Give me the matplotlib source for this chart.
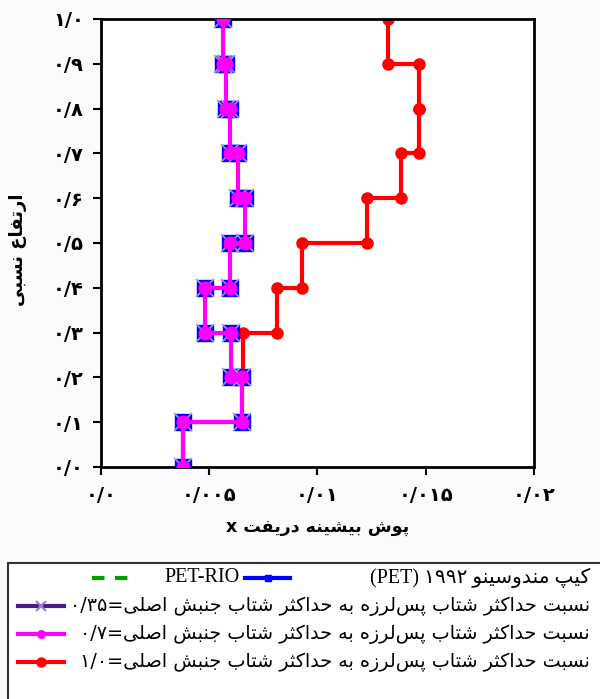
import matplotlib
matplotlib.use("Agg")
import matplotlib.pyplot as plt
from matplotlib.patches import Rectangle

# --- data ---
heights = [0.0, 0.1, 0.2, 0.3, 0.4, 0.5, 0.6, 0.7, 0.8, 0.9, 1.0]
drift_pet = [0.0038, 0.00652, 0.00601, 0.00481, 0.00597, 0.00666, 0.00634, 0.00596, 0.00578, 0.00564]
drift_petrio = [0.0038, 0.00652, 0.00601, 0.00481, 0.00597, 0.00666, 0.00634, 0.00596, 0.00578, 0.00564]
drift_r035 = [0.0038, 0.00652, 0.00601, 0.00481, 0.00597, 0.00666, 0.00634, 0.00596, 0.00578, 0.00564]
drift_r07 = [0.0038, 0.00652, 0.00601, 0.00481, 0.00597, 0.00666, 0.00634, 0.00596, 0.00578, 0.00564]
drift_r10 = [0.0038, 0.00652, 0.00657, 0.00813, 0.00929, 0.01229, 0.01385, 0.01469, 0.01469, 0.01325]

xticks = [0.0, 0.005, 0.01, 0.015, 0.02]
xtick_labels = ['۰/۰', '۰/۰۰۵', '۰/۰۱', '۰/۰۱۵', '۰/۰۲']
yticks = [0.0, 0.1, 0.2, 0.3, 0.4, 0.5, 0.6, 0.7, 0.8, 0.9, 1.0]
ytick_labels = ['۰/۰', '۰/۱', '۰/۲', '۰/۳', '۰/۴', '۰/۵', '۰/۶', '۰/۷', '۰/۸', '۰/۹', '۱/۰']

xlabel = 'پوش بیشینه دریفت x'
ylabel = 'ارتفاع نسبی'
lbl_pet = 'کیپ مندوسینو ۱۹۹۲ (PET)'
lbl_petrio = 'PET-RIO'
lbl_ratio = 'نسبت حداکثر شتاب پس\u200cلرزه به حداکثر شتاب جنبش اصلی='
ratios = ['۰/۳۵', '۰/۷', '۱/۰']

# --- minimal Persian shaping + right-to-left ordering (matplotlib has no CTL) ---
# isolated, final, initial, medial
FORMS = {
    'ا': (0xFE8D, 0xFE8E, 0xFE8D, 0xFE8E),
    'ب': (0xFE8F, 0xFE90, 0xFE91, 0xFE92),
    'پ': (0xFB56, 0xFB57, 0xFB58, 0xFB59),
    'ت': (0xFE95, 0xFE96, 0xFE97, 0xFE98),
    'ث': (0xFE99, 0xFE9A, 0xFE9B, 0xFE9C),
    'ج': (0xFE9D, 0xFE9E, 0xFE9F, 0xFEA0),
    'ح': (0xFEA1, 0xFEA2, 0xFEA3, 0xFEA4),
    'د': (0xFEA9, 0xFEAA, 0xFEA9, 0xFEAA),
    'ر': (0xFEAD, 0xFEAE, 0xFEAD, 0xFEAE),
    'ز': (0xFEAF, 0xFEB0, 0xFEAF, 0xFEB0),
    'س': (0xFEB1, 0xFEB2, 0xFEB3, 0xFEB4),
    'ش': (0xFEB5, 0xFEB6, 0xFEB7, 0xFEB8),
    'ص': (0xFEB9, 0xFEBA, 0xFEBB, 0xFEBC),
    'ع': (0xFEC9, 0xFECA, 0xFECB, 0xFECC),
    'ف': (0xFED1, 0xFED2, 0xFED3, 0xFED4),
    'ک': (0xFB8E, 0xFB8F, 0xFB90, 0xFB91),
    'ل': (0xFEDD, 0xFEDE, 0xFEDF, 0xFEE0),
    'م': (0xFEE1, 0xFEE2, 0xFEE3, 0xFEE4),
    'ن': (0xFEE5, 0xFEE6, 0xFEE7, 0xFEE8),
    'ه': (0xFEE9, 0xFEEA, 0xFEEB, 0xFEEC),
    'و': (0xFEED, 0xFEEE, 0xFEED, 0xFEEE),
    'ی': (0xFBFC, 0xFBFD, 0xFBFE, 0xFBFF),
}
RIGHT_ONLY = set('ادذرزژو')


def shape_word(w):
    out = []
    for i, c in enumerate(w):
        if c not in FORMS:
            if c != '\u200c':
                out.append(c)
            continue
        prev = w[i - 1] if i > 0 else ''
        nxt = w[i + 1] if i + 1 < len(w) else ''
        jp = prev in FORMS and prev not in RIGHT_ONLY
        jn = c not in RIGHT_ONLY and nxt in FORMS
        f = FORMS[c]
        idx = 3 if (jp and jn) else 1 if jp else 2 if jn else 0
        out.append(chr(f[idx]))
    return ''.join(out)


def kind(c):
    if c in FORMS or c == '\u200c':
        return 'ar'
    if c == '=':
        return 'eq'
    return 'ltr'


def fa(text):
    vis = []
    for tok in reversed(text.split(' ')):
        runs, cur, cur_k = [], '', None
        for c in tok:
            k = kind(c)
            if cur and (k != cur_k or k == 'eq'):
                runs.append((cur, cur_k))
                cur = ''
            cur += c
            cur_k = k
        if cur:
            runs.append((cur, cur_k))
        vis.append(''.join(shape_word(r)[::-1] if k == 'ar' else r
                           for r, k in reversed(runs)))
    return ' '.join(vis)


def steps(drift):
    xs, ys = [], []
    for i, d in enumerate(drift):
        xs += [d, d]
        ys += [heights[i], heights[i + 1]]
    return xs, ys


plt.rcParams['font.family'] = ['DejaVu Sans']
W, H = 600, 699
fig = plt.figure(figsize=(6, 6.99), dpi=100, facecolor='#fbfbfe')
ax = fig.add_axes([100.7 / W, 1 - 467 / H, (534 - 100.7) / W, (467 - 19) / H])
ax.set_facecolor('white')

x, y = steps(drift_r10)
ax.plot(x, y, color='#ff0000', lw=3, marker='o', ms=8, zorder=2)
x, y = steps(drift_petrio)
ax.plot(x, y, color='#00a000', lw=2, ls='--', zorder=3)
x, y = steps(drift_pet)
ax.plot(x, y, color='#0000ff', lw=2, marker='s', ms=11, mfc='#0000ff', mec='#0000ff', zorder=4)
x, y = steps(drift_r035)
ax.plot(x, y, color='#4b1c8c', lw=2, marker='x', ms=13, mec='#a898c8', mew=1.2, zorder=5)
x, y = steps(drift_r07)
ax.plot(x, y, color='#ff00ff', lw=3, marker='o', ms=9, zorder=6)

ax.set_xlim(0, 0.02)
ax.set_ylim(0, 1.0)
ax.set_xticks(xticks)
ax.set_xticklabels(xtick_labels, fontsize=14, fontweight='bold')
ax.set_yticks(yticks)
ax.set_yticklabels(ytick_labels, fontsize=14, fontweight='bold')
ax.tick_params(axis='both', direction='out', length=6, width=1.5, color='black')
ax.tick_params(axis='x', pad=8)
ax.tick_params(axis='y', pad=6)
for s in ax.spines.values():
    s.set_linewidth(2)
    s.set_color('black')
ax.set_xlabel(fa(xlabel), fontsize=12.5, fontweight='bold', labelpad=9)
fig.text(18 / W, 1 - 250 / H, fa(ylabel), rotation=90, ha='center', va='center',
         fontsize=13, fontweight='bold')

# --- legend drawn in pixel space below the plot ---
lax = fig.add_axes([0, 0, 1, 1], facecolor='none')
lax.set_xlim(0, W)
lax.set_ylim(H, 0)
lax.axis('off')
lax.add_patch(Rectangle((8, 563), 620, 160, facecolor='white', edgecolor='#333333',
                        lw=1.5, clip_on=False))

rows = [578, 606, 634, 662]
# row 1: two entries
lax.plot([92, 136], [rows[0], rows[0]], color='#00a000', lw=3, ls=(0, (3, 2.5)))
lax.text(240, rows[0], lbl_petrio, ha='right', va='center', fontsize=14.5,
         family=['Liberation Serif', 'DejaVu Sans'])
lax.plot([245, 290], [rows[0], rows[0]], color='#0000ff', lw=3)
lax.plot([267.5], [rows[0]], color='#0000ff', marker='s', ms=5)
lax.text(590, rows[0], fa(lbl_pet), ha='right', va='center', fontsize=14.5,
         family=['Liberation Serif', 'DejaVu Sans'])

samples = [
    dict(color='#4b1c8c', marker='x', mec='#9b7fd0', ms=7),
    dict(color='#ff00ff', marker='o', mec='#ff00ff', ms=5),
    dict(color='#ff0000', marker='o', mec='#ff0000', ms=6),
]
for r, ratio, st in zip(rows[1:], ratios, samples):
    lax.plot([18, 64], [r, r], color=st['color'], lw=3)
    lax.plot([41], [r], marker=st['marker'], ms=st['ms'], color=st['color'],
             mec=st['mec'], mew=1.5, ls='none')
    lax.text(590, r, fa(lbl_ratio + ratio), ha='right', va='center', fontsize=13.8)

fig.savefig('out.png', dpi=100, facecolor=fig.get_facecolor())
